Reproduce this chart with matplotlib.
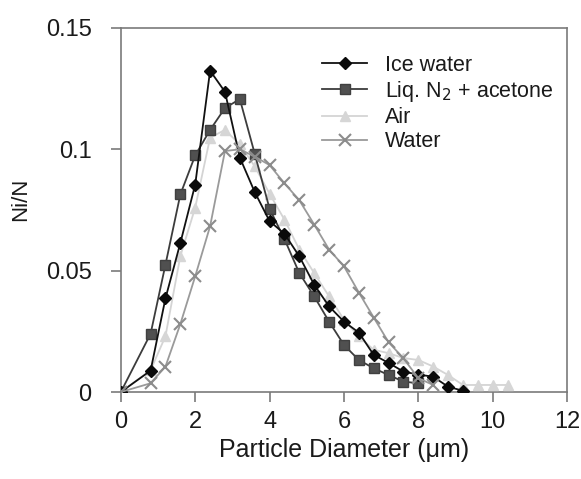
import matplotlib
matplotlib.use("Agg")
import matplotlib.pyplot as plt

plt.rcParams['font.family'] = ['Liberation Sans', 'DejaVu Sans']

# data (diameter in um, fraction Ni/N)
diam = [0, 0.8, 1.2, 1.6, 2.0, 2.4, 2.8, 3.2, 3.6, 4.0, 4.4, 4.8, 5.2,
        5.6, 6.0, 6.4, 6.8, 7.2, 7.6, 8.0, 8.4, 8.8, 9.2, 9.6, 10.0, 10.4]

ice_water = [0, 0.0088, 0.0386, 0.0614, 0.0855, 0.1324, 0.1237, 0.0966,
             0.0824, 0.0704, 0.0652, 0.0559, 0.0442, 0.0353, 0.0290,
             0.0245, 0.0153, 0.0120, 0.0084, 0.0072, 0.0063, 0.0022, 0.0005]
liq_n2 = [0, 0.0240, 0.0525, 0.0814, 0.0975, 0.1080, 0.1170, 0.1207,
          0.0982, 0.0755, 0.0630, 0.0490, 0.0394, 0.0290, 0.0194, 0.0132,
          0.0098, 0.0070, 0.0043, 0.0036]
air = [0, 0.0090, 0.0230, 0.0560, 0.0760, 0.1048, 0.1080, 0.1020, 0.0930,
       0.0817, 0.0710, 0.0587, 0.0490, 0.0394, 0.0298, 0.0229, 0.0174,
       0.0160, 0.0140, 0.0132, 0.0105, 0.0070, 0.0029, 0.0029, 0.0029, 0.0029]
water = [0, 0.0036, 0.0105, 0.0280, 0.0477, 0.0683, 0.0993, 0.1000, 0.0970,
         0.0935, 0.0860, 0.0790, 0.0690, 0.0587, 0.0518, 0.0410, 0.0307,
         0.0205, 0.0139, 0.0057, 0.0029]

labels = ["Ice water", "Liq. N$_2$ + acetone", "Air", "Water"]
xticks = [0, 2, 4, 6, 8, 10, 12]
yticks = [0, 0.05, 0.1, 0.15]
ytick_labels = ["0", "0.05", "0.1", "0.15"]

fig = plt.figure(figsize=(5.81, 4.79), dpi=100)
ax = fig.add_axes([0.208, 0.1816, 0.768, 0.76])

axis_col = "#7a7a7a"
txt_col = "#1a1a1a"
ax.plot(diam[:len(ice_water)], ice_water, color="#111111", lw=1.3, marker="D",
        ms=6.5, mfc="#0a0a0a", mec="#0a0a0a", label=labels[0], zorder=5)
ax.plot(diam[:len(liq_n2)], liq_n2, color="#3c3c3c", lw=1.3, marker="s",
        ms=7, mfc="#505050", mec="#404040", label=labels[1], zorder=4)
ax.plot(diam[:len(air)], air, color="#d4d4d4", lw=1.3, marker="^",
        ms=7, mfc="#d6d6d6", mec="#d6d6d6", label=labels[2], zorder=3)
ax.plot(diam[:len(water)], water, color="#9a9a9a", lw=1.3, marker="x",
        ms=8, mew=1.5, mec="#8c8c8c", label=labels[3], zorder=6)

ax.set_xlim(0, 12)
ax.set_ylim(0, 0.15)
ax.set_xticks(xticks)
ax.set_yticks(yticks)
ax.set_yticklabels(ytick_labels)

for s in ax.spines.values():
    s.set_color(axis_col)
    s.set_linewidth(1.2)
ax.tick_params(axis="both", direction="out", length=7, width=1.2,
               color=axis_col, labelsize=17, labelcolor=txt_col)
ax.tick_params(axis="y", pad=14)
ax.tick_params(axis="x", pad=7)

ax.set_xlabel("Particle Diameter (\u03bcm)", fontsize=18, color=txt_col,
              labelpad=3)
ax.set_ylabel("Ni/N", fontsize=16, color=txt_col)
ax.yaxis.set_label_coords(-0.2, 0.53)

leg = ax.legend(loc="upper left", bbox_to_anchor=(0.432, 0.95), frameon=False,
                fontsize=15.5, handlelength=2.1, handletextpad=0.8,
                labelspacing=0.15, borderaxespad=0)
for t in leg.get_texts():
    t.set_color(txt_col)

fig.savefig("out.png", dpi=100)
